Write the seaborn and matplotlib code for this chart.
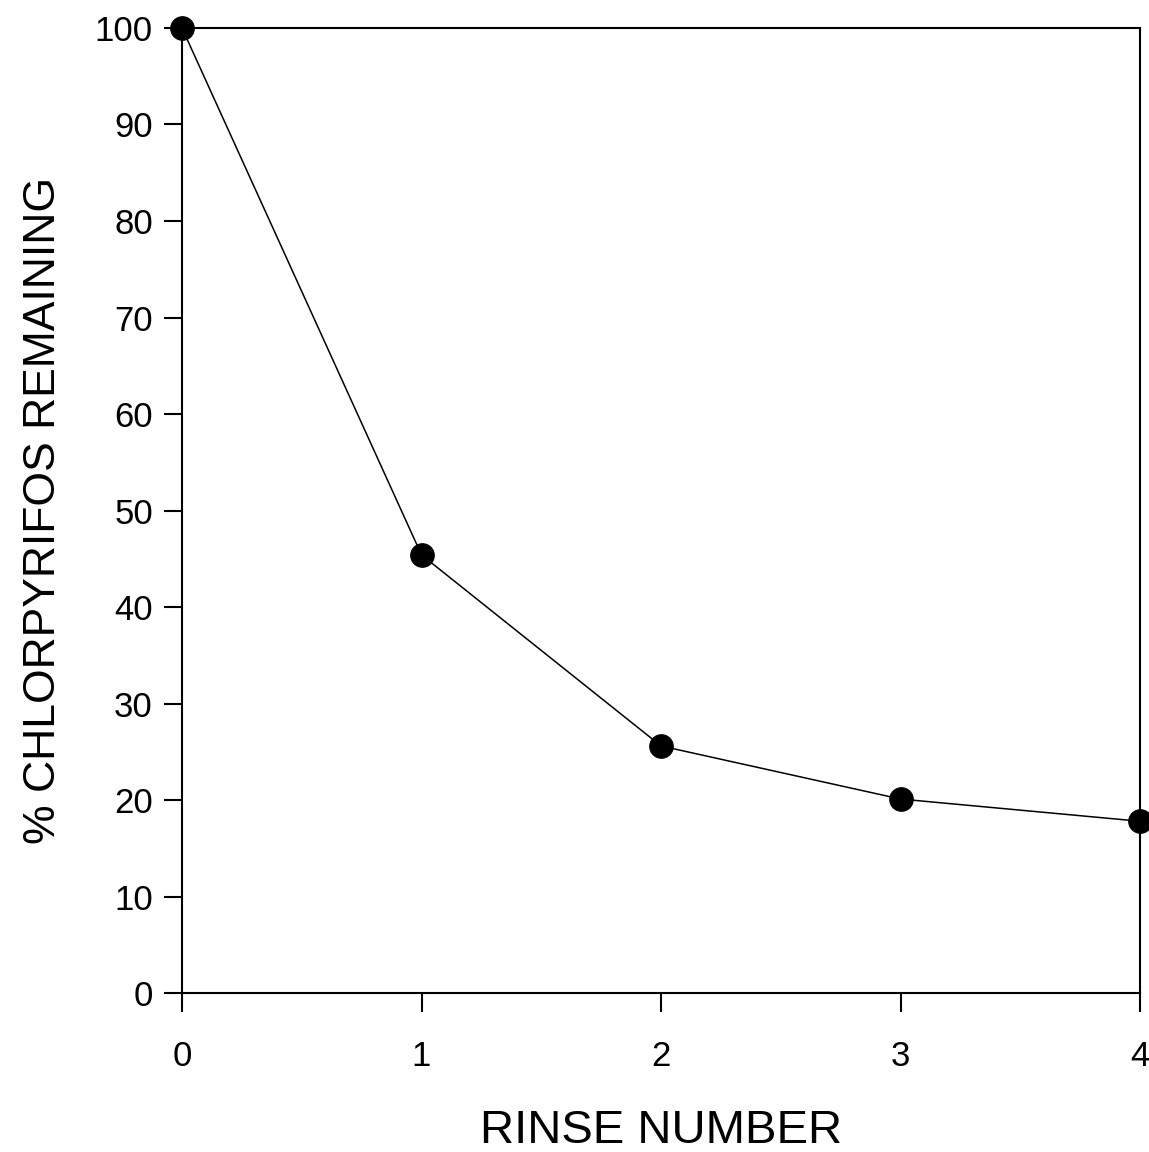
"""
Chlorpyrifos remaining after successive rinses.
"""
import matplotlib
matplotlib.use("Agg")
import matplotlib.pyplot as plt
import pandas as pd
import seaborn as sns

# ---------------------------------------------------------------------------
# Data
# ---------------------------------------------------------------------------
rinse_number = [0, 1, 2, 3, 4]
pct_remaining = [100.0, 45.4, 25.6, 20.1, 17.8]
x_ticks = [0, 1, 2, 3, 4]
y_ticks = [0, 10, 20, 30, 40, 50, 60, 70, 80, 90, 100]

df = pd.DataFrame({"rinse": rinse_number, "pct": pct_remaining})

# ---------------------------------------------------------------------------
# Plot
# ---------------------------------------------------------------------------
sns.set_style("ticks")
plt.rcParams["font.family"] = ["Liberation Sans", "DejaVu Sans"]

fig = plt.figure(figsize=(11.49, 11.52), dpi=100)
ax = fig.add_axes([0.1584, 0.138, 0.8338, 0.8377])

sns.lineplot(data=df, x="rinse", y="pct", ax=ax, color="black",
             linewidth=1.1, marker="o", markersize=17,
             markeredgecolor="black", markerfacecolor="black")

ax.set_xlim(0, 4)
ax.set_ylim(0, 100)
ax.set_xticks(x_ticks)
ax.set_yticks(y_ticks)
ax.tick_params(axis="both", direction="out", width=1.5, colors="black",
               labelsize=25)
ax.tick_params(axis="x", length=14, pad=20)
ax.tick_params(axis="y", length=13, pad=8)
for spine in ax.spines.values():
    spine.set_visible(True)
    spine.set_linewidth(1.5)
    spine.set_color("black")

for line in ax.lines:
    line.set_clip_on(False)

ax.set_xlabel("RINSE NUMBER", fontsize=34, labelpad=26, color="black")
ax.set_ylabel("% CHLORPYRIFOS REMAINING", fontsize=32, labelpad=22,
              color="black")

fig.savefig("out.png", dpi=100)
